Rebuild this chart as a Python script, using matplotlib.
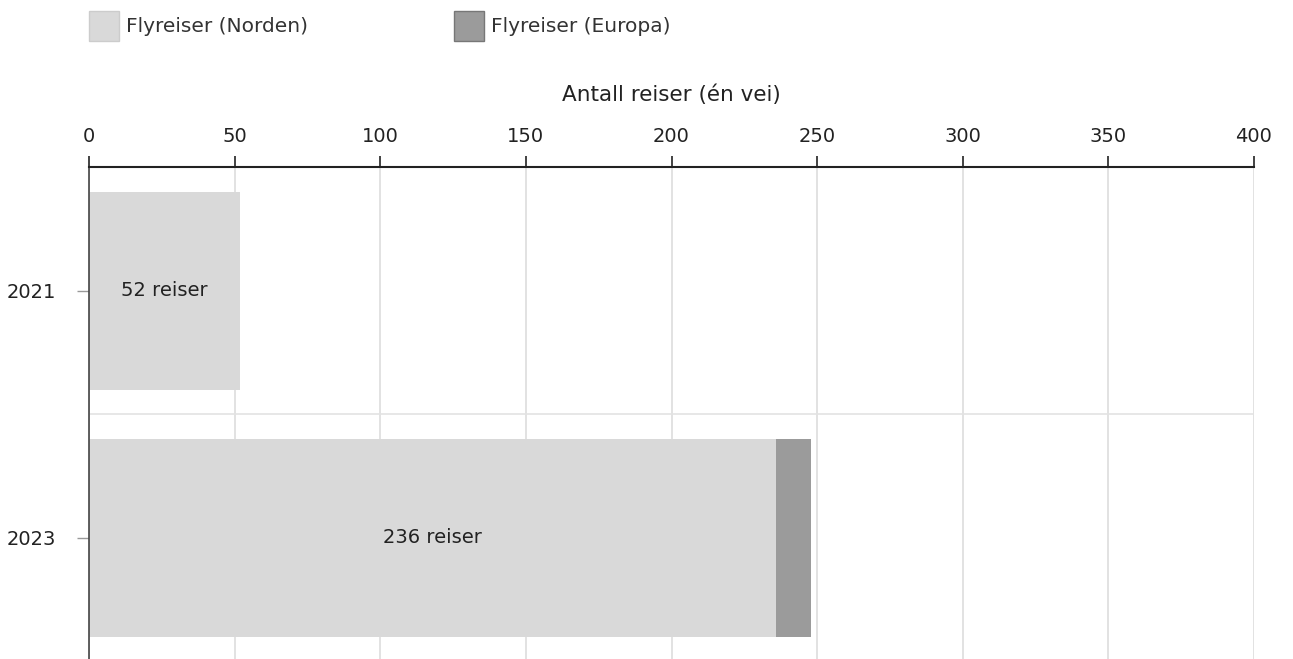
import matplotlib.pyplot as plt
from matplotlib.patches import Rectangle

years = ["2021", "2023"]
norden = [52, 236]
europa = [0, 12]
bar_labels = ["52 reiser", "236 reiser"]
series_names = ["Flyreiser (Norden)", "Flyreiser (Europa)"]
colors = ["#d9d9d9", "#9b9b9b"]
xticks = [0, 50, 100, 150, 200, 250, 300, 350, 400]

plt.rcParams['font.family'] = ['DejaVu Sans']

W, H = 1293, 659
fig = plt.figure(figsize=(W / 100, H / 100), dpi=100)
ax = fig.add_axes([89 / W, 0, (1254 - 89) / W, 1 - 167 / H])

pos = list(range(len(years)))
ax.barh(pos, norden, height=0.8, color=colors[0], zorder=2)
ax.barh(pos, europa, left=norden, height=0.8, color=colors[1], zorder=2)

for i, txt in enumerate(bar_labels):
    ax.text(norden[i] / 2, i, txt, ha="center", va="center",
            fontsize=14, color="#222222", zorder=3)

ax.set_xlim(0, 400)
ax.set_ylim(1.49, -0.5)
ax.set_yticks(pos)
ax.set_yticklabels(years)
ax.set_xticks(xticks)

ax.xaxis.tick_top()
ax.xaxis.set_label_position("top")
ax.set_xlabel("Antall reiser (én vei)", fontsize=15.5, labelpad=19, color="#222222")
ax.tick_params(axis="x", direction="out", length=8, width=1.2, color="#222222",
               labelsize=14, labelcolor="#222222", pad=7)
ax.tick_params(axis="y", direction="out", length=9, width=1, color="#999999",
               labelsize=14, labelcolor="#222222", pad=15)

for s in ["right", "bottom"]:
    ax.spines[s].set_visible(False)
ax.spines["top"].set_linewidth(1.5)
ax.spines["top"].set_color("#222222")
ax.spines["left"].set_linewidth(1.2)
ax.spines["left"].set_color("#444444")

ax.grid(axis="x", color="#dddddd", linewidth=1.2, zorder=1)
ax.set_axisbelow(True)
ax.axhline(0.5, color="#e3e3e3", linewidth=1.2, zorder=1)

# legend drawn in pixel positions at the top
for x0, name, c, ec in [(89, series_names[0], colors[0], "#cccccc"),
                        (454, series_names[1], colors[1], "#777777")]:
    fig.add_artist(Rectangle((x0 / W, 1 - 41 / H), 30 / W, 30 / H,
                             transform=fig.transFigure, facecolor=c,
                             edgecolor=ec, linewidth=1))
    fig.text((x0 + 37) / W, 1 - 26 / H, name, ha="left", va="center",
             fontsize=14.5, color="#333333")

fig.savefig("out.png", dpi=100)
